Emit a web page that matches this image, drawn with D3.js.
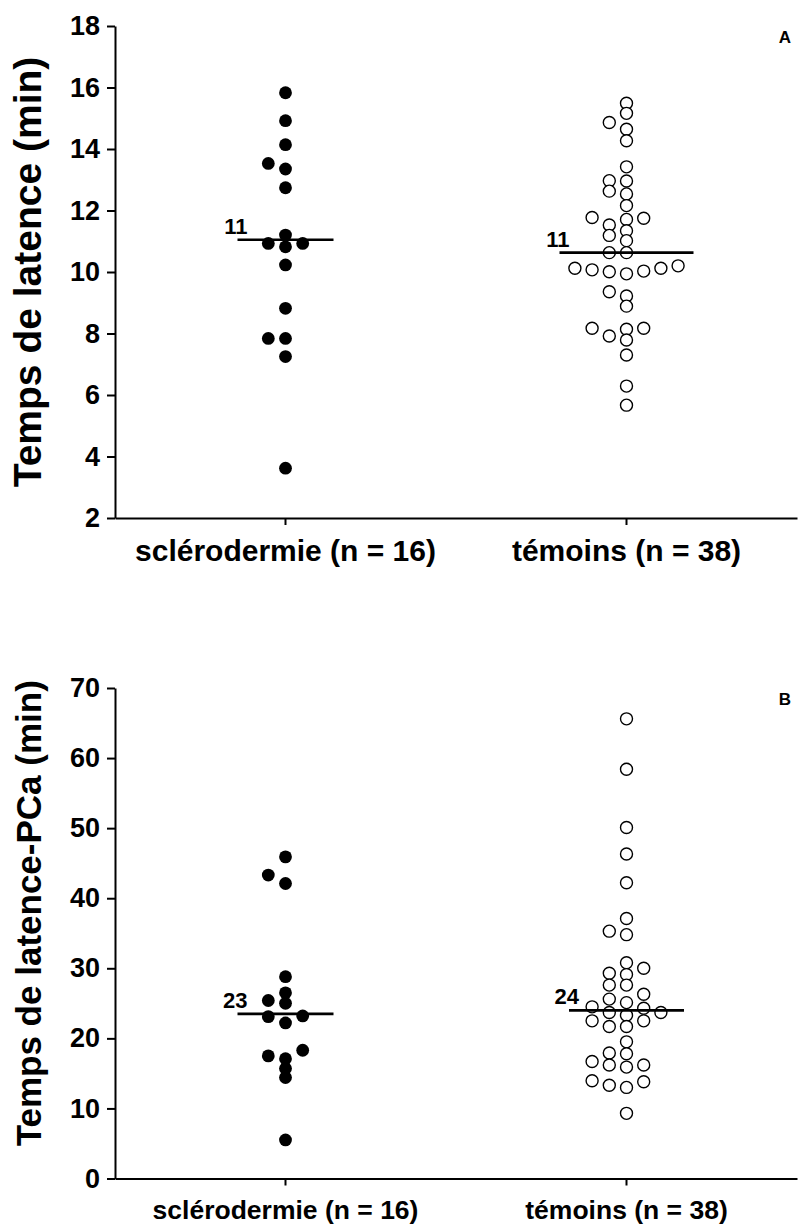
<!DOCTYPE html>
<html><head><meta charset="utf-8">
<script src="https://cdn.jsdelivr.net/npm/d3@7"></script>
<style>
body{margin:0;background:#fff}
svg{display:block}
text{font-family:"Liberation Sans", Arial, sans-serif;font-weight:bold;fill:#000}
</style>
</head><body>
<svg id="chart" width="799" height="1230"></svg>
<script>
// ---------- data ----------
const categories = ["sclérodermie (n = 16)", "témoins (n = 38)"];

// Panel A : Temps de latence (min)
const latenceSclero = [15.83, 14.92, 14.14, 13.53, 13.35, 12.74, 11.2, 10.93, 10.93, 10.82, 10.23, 8.82, 7.84, 7.84, 7.25, 3.62];
const latenceTemoins = [15.49, 15.16, 14.86, 14.64, 14.27, 13.42, 12.97, 12.96, 12.63, 12.54, 12.16, 11.77, 11.75, 11.71, 11.53, 11.34, 11.19, 11.02, 10.63, 10.63, 10.20, 10.12, 10.12, 10.07, 10.03, 10.01, 9.94, 9.36, 9.22, 8.89, 8.17, 8.17, 8.14, 7.92, 7.79, 7.30, 6.29, 5.67];
const latenceMedians = [11.05, 10.63];
const latenceMedianLabels = ["11", "11"];
const latenceTicks = [2, 4, 6, 8, 10, 12, 14, 16, 18];

// Panel B : Temps de latence-PCa (min)
const pcaSclero = [45.9, 43.3, 42.1, 28.8, 26.5, 25.4, 25.0, 23.2, 23.1, 22.2, 18.3, 17.5, 17.1, 15.7, 14.4, 5.5];
const pcaTemoins = [65.6, 58.4, 50.1, 46.3, 42.2, 37.1, 35.3, 34.8, 30.8, 30.0, 29.3, 29.1, 27.6, 27.6, 26.3, 25.6, 25.1, 24.5, 24.3, 23.7, 23.7, 23.3, 22.5, 22.5, 21.7, 21.7, 19.5, 17.9, 17.8, 16.7, 16.2, 16.2, 15.9, 13.95, 13.8, 13.3, 13.0, 9.3];
const pcaMedians = [23.5, 24.0];
const pcaMedianLabels = ["23", "24"];
const pcaTicks = [0, 10, 20, 30, 40, 50, 60, 70];

// ---------- layout helpers ----------
const svg = d3.select("#chart");
const X0 = 115, X1 = 797;
const R = 6.4, SLOT = 17.2, MIN_GAP = 9;

function swarmSlots(values, y) {
  const order = d3.range(values.length).sort((a, b) => values[a] - values[b]);
  const occupied = new Map();
  const seq = [0];
  for (let k = 1; k < 12; k++) seq.push(-k, k);
  const out = new Array(values.length);
  for (const i of order) {
    const py = y(values[i]);
    for (const s of seq) {
      const arr = occupied.get(s) || [];
      if (arr.every(q => Math.abs(q - py) >= MIN_GAP)) {
        arr.push(py); occupied.set(s, arr); out[i] = s; break;
      }
    }
  }
  return out;
}

function panel(cfg) {
  const g = svg.append("g");
  const y = d3.scaleLinear().domain(cfg.domain).range([cfg.bottom, cfg.top]);
  const x = d3.scaleBand().domain(categories).range([X0, X1]);
  const cx = c => x(c) + x.bandwidth() / 2;

  // axes
  const ya = g.append("g").attr("transform", `translate(${X0},0)`)
    .call(d3.axisLeft(y).tickValues(cfg.ticks).tickSize(8).tickPadding(7).tickSizeOuter(0).tickFormat(d3.format("d")));
  ya.select(".domain").attr("stroke-width", 2);
  ya.selectAll(".tick line").attr("stroke-width", 2);
  ya.selectAll(".tick text").attr("font-size", cfg.tickSize).attr("font-family", null);

  const xa = g.append("g").attr("transform", `translate(0,${cfg.bottom})`)
    .call(d3.axisBottom(x).tickSize(7).tickPadding(cfg.xPad).tickSizeOuter(0));
  xa.select(".domain").attr("stroke-width", 2);
  xa.selectAll(".tick line").attr("stroke-width", 2);
  xa.selectAll(".tick text").attr("font-size", cfg.xLabelSize).attr("font-family", null);

  // y title
  g.append("text")
    .attr("transform", `translate(${cfg.titleX},${(cfg.top + cfg.bottom) / 2 + cfg.titleDy}) rotate(-90)`)
    .attr("text-anchor", "middle").attr("font-size", cfg.titleSize).text(cfg.title);

  // panel letter
  g.append("text").attr("x", 791).attr("y", cfg.top + cfg.letterDy)
    .attr("text-anchor", "end").attr("font-size", 17).text(cfg.letter);

  // groups
  cfg.groups.forEach((values, gi) => {
    const c = categories[gi];
    const slots = swarmSlots(values, y);
    const maxSlot = d3.max(slots, s => Math.abs(s));
    g.append("g").selectAll("circle").data(values).join("circle")
      .attr("cx", (d, i) => cx(c) + slots[i] * SLOT)
      .attr("cy", d => y(d))
      .attr("r", gi === 0 ? R : R - 0.4)
      .attr("fill", gi === 0 ? "#000" : "#fff")
      .attr("stroke", "#000")
      .attr("stroke-width", gi === 0 ? 0 : 1.4);
    // median line
    const hw = 48 + Math.max(0, maxSlot - 1) * 9.5;
    const my = y(cfg.medians[gi]);
    g.append("line")
      .attr("x1", cx(c) - hw).attr("x2", cx(c) + hw)
      .attr("y1", my).attr("y2", my)
      .attr("stroke", "#000").attr("stroke-width", 2.6);
    g.append("text")
      .attr("x", cx(c) - hw + 10).attr("y", my - 6)
      .attr("text-anchor", "end").attr("font-size", 22)
      .text(cfg.medianLabels[gi]);
  });
}

panel({
  domain: [2, 18], top: 26, bottom: 518, ticks: latenceTicks,
  groups: [latenceSclero, latenceTemoins], medians: latenceMedians, medianLabels: latenceMedianLabels,
  title: "Temps de latence (min)", titleSize: 39, titleX: 41, titleDy: 0,
  tickSize: 27, xLabelSize: 30, xPad: 15, letter: "A", letterDy: 17
});

panel({
  domain: [0, 70], top: 688, bottom: 1178.5, ticks: pcaTicks,
  groups: [pcaSclero, pcaTemoins], medians: pcaMedians, medianLabels: pcaMedianLabels,
  title: "Temps de latence-PCa (min)", titleSize: 35, titleX: 41, titleDy: -20,
  tickSize: 27, xLabelSize: 26.5, xPad: 15, letter: "B", letterDy: 17
});
</script>
</body></html>
